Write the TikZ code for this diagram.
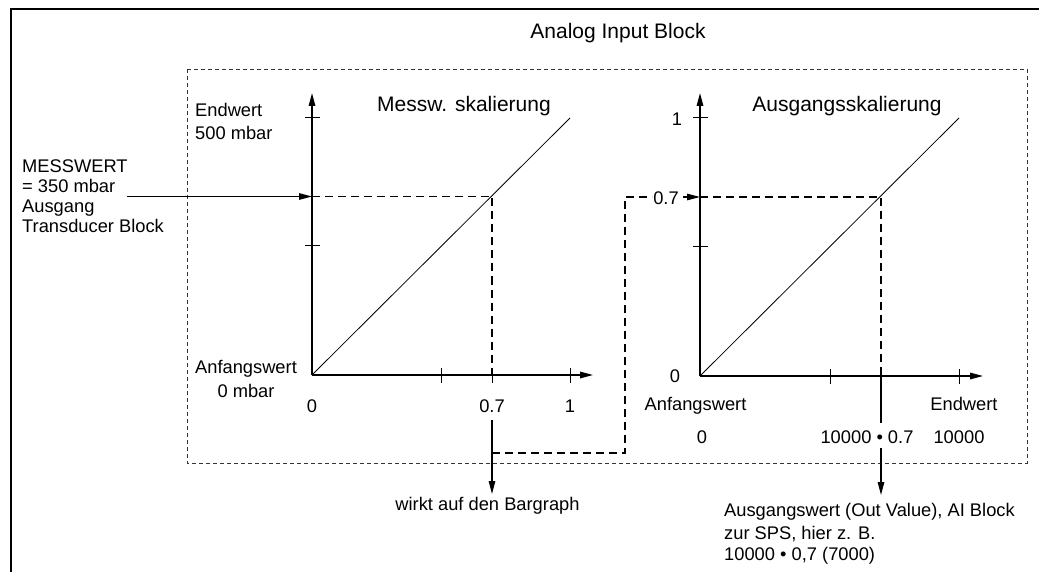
\documentclass[tikz,border=0pt]{standalone}
\usepackage{fontspec}
\setmainfont{Liberation Sans}
\newfontfamily\titlef{Liberation Sans}
\usetikzlibrary{arrows.meta,calc}
\tikzset{
  lbl/.style={font=\fontsize{18.3}{20.2}\selectfont, inner sep=0pt},
  ttl/.style={font=\titlef\fontsize{21}{25}\selectfont, inner sep=0pt},
  axisline/.style={line width=1.5pt, -{Triangle[length=13pt,width=6.5pt]}},
  tickline/.style={line width=1pt},
  diag/.style={line width=0.8pt},
  guide/.style={line width=1.3pt, dash pattern=on 8pt off 5pt},
  boxline/.style={line width=0.9pt, dash pattern=on 4pt off 3pt, draw=black!80},
  arr/.style={line width=1.3pt, -{Triangle[length=13pt,width=6.5pt]}},
  plain/.style={line width=1.3pt},
}
\begin{document}
\begin{tikzpicture}[x=1pt,y=-1pt]
\useasboundingbox (0,0) rectangle (1039,572);
% frame
\draw[line width=1.2pt] (11,572) -- (11,9) -- (1039,9);
% analog input block
\draw[boxline] (187,69) rectangle (1027,463);
\node[ttl, anchor=base] (tAI) at (618,39) {Analog Input Block};
\node[ttl, anchor=base] (tM) at (464,111.5) {Messw. skalierung};
\node[ttl, anchor=base] (tA) at (847,112) {Ausgangsskalierung};

% ---------- left chart ----------
\coordinate (o1) at (312,375);
\coordinate (y1) at (312,93);
\coordinate (x1) at (593,375);
\draw[axisline] (o1) -- (y1);
\draw[axisline] (o1) -- (x1);
\draw[tickline] (305,118) -- (320,118);
\draw[tickline] (305,246) -- (320,246);
\draw[tickline] (441,368) -- (441,383);
\draw[tickline] (492,368) -- (492,383);
\draw[tickline] (570,368) -- (570,383);
\draw[diag] (o1) -- (570,118);
\coordinate (ly07) at (312,196.5);
\coordinate (p1) at (492,196.5);
\draw[guide] (ly07) -- (p1) -- (492,375);

\node[lbl, anchor=north west, align=left] (endw) at (195,103.2) {Endwert\\[3.1pt]500 mbar};
\node[lbl, anchor=north west, align=left] (mw) at (22,159.4) {MESSWERT\\= 350 mbar\\Ausgang\\Transducer Block};
\coordinate (msrc) at (127,196.5);
\draw[arr] (msrc) -- (ly07);
\node[lbl, anchor=north, align=center] (anf) at (246,360) {Anfangswert\\[3.5pt]0 mbar};
\node[lbl, anchor=base] (l0) at (312,412.5) {0};
\node[lbl, anchor=base] (l07) at (492,412.5) {0.7};
\node[lbl, anchor=base] (l1) at (570,412.5) {1};
\node[lbl, anchor=base] (bar) at (487.5,510) {wirkt auf den Bargraph};
\coordinate (b1) at (492,420);
\coordinate (k1) at (492,453);
\draw[arr] (b1) -- (b1 |- 0,494);
% route to right chart
\node[lbl, anchor=base] (r07) at (666,204.5) {0.7};
\coordinate (ry07) at (700,197);
\draw[guide] (k1) -- (625,453) -- (625,197) -- (652,197);
\draw[arr] (683,197) -- (ry07);

% ---------- right chart ----------
\coordinate (o2) at (700,376);
\coordinate (y2) at (700,93);
\coordinate (x2) at (983,376);
\draw[axisline] (o2) -- (y2);
\draw[axisline] (o2) -- (x2);
\draw[tickline] (693,118) -- (708,118);
\draw[tickline] (693,247) -- (708,247);
\draw[tickline] (830,369) -- (830,384);
\draw[tickline] (959,369) -- (959,384);
\draw[diag] (o2) -- (959,118);
\coordinate (p2) at (881,197);
\draw[guide] (ry07) -- (p2) -- (881,376);
\draw[plain] (881,376) -- (881,423);

\node[lbl, anchor=base] (r1) at (677,125.5) {1};
\node[lbl, anchor=base] (r0) at (675,382.5) {0};
\node[lbl, anchor=base] (ranf) at (695.5,410.5) {Anfangswert};
\node[lbl, anchor=base] (rend) at (964,410.5) {Endwert};
\node[lbl, anchor=base] (rz) at (702,443) {0};
\node[lbl, anchor=base] (lprod) at (867,443) {10000 • 0.7};
\node[lbl, anchor=base] (rmax) at (959,443) {10000};
\node[lbl, anchor=north west, align=left] (out) at (724,503.5) {Ausgangswert (Out Value), AI Block\\[2.8pt]zur SPS, hier z. B.\\10000 • 0,7 (7000)};
\coordinate (q2) at (881,448);
\draw[arr] (q2) -- (881,495);
\end{tikzpicture}
\end{document}
